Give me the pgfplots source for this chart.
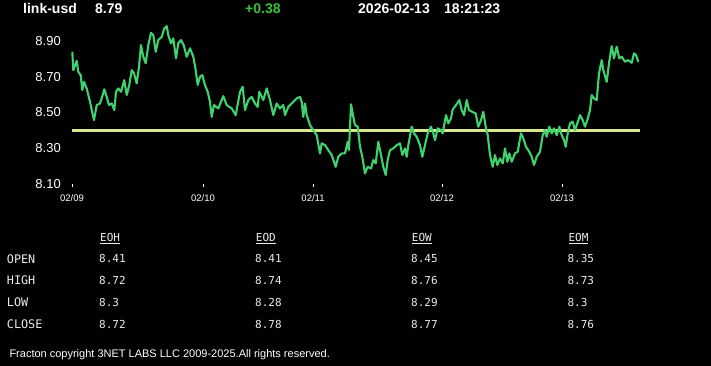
\documentclass[border=0pt]{standalone}
\usepackage{pgfplots}
\pgfplotsset{compat=1.18}
\usepackage{fontspec}
\setmainfont{Liberation Sans}
\newfontfamily\monofont{DejaVu Sans Mono}
\definecolor{linegreen}{RGB}{64,210,110}
\definecolor{refyellow}{RGB}{215,232,140}
\definecolor{chggreen}{RGB}{60,195,60}
\definecolor{txtgray}{RGB}{235,235,235}
\begin{document}
\begin{tikzpicture}[x=1pt,y=1pt]
\fill[black] (0,0) rectangle (711,366);
\begin{axis}[
  at={(72pt,182pt)}, anchor=south west,
  scale only axis, width=568pt, height=161.1pt,
  xmin=72, xmax=640, ymin=8.1, ymax=9.0,
  axis lines*=left, axis line style={draw=none},
  clip=false,
  tick align=outside, major tick length=3pt,
  xtick={72,203,313,442,562},
  xticklabels={02/09,02/10,02/11,02/12,02/13},
  xtick style={white, line width=0.8pt},
  ytick={8.1,8.3,8.5,8.7,8.9},
  yticklabels={8.10,8.30,8.50,8.70,8.90},
  ytick style={draw=none},
  yticklabel style={text=white, font=\fontsize{13}{13}\selectfont, inner sep=0pt, xshift=-8pt},
  xticklabel style={text=white, font=\fontsize{9.5}{9.5}\selectfont, yshift=-4pt},
]
\addplot[refyellow, line width=2.6pt] coordinates {(72,8.40) (640,8.40)};
\addplot[linegreen, line width=2.1pt, line join=round] coordinates {
(72.3,8.839) (73.3,8.736) (76.7,8.788) (78.3,8.727) (80.7,8.708) (82.3,8.625) (84,8.671) (86.7,8.634)
(90,8.559) (94,8.457) (96.7,8.541) (100,8.550) (101.7,8.578) (104.3,8.629) (106.7,8.587) (109,8.541)
(111.7,8.550) (114.3,8.513) (116,8.615) (118.3,8.634) (121,8.615) (124.3,8.680) (126.7,8.597) (129.3,8.653)
(131.7,8.736) (134,8.718) (136.7,8.662) (139,8.755) (141,8.876) (143.3,8.811) (145.7,8.774) (148.3,8.876)
(151,8.945) (153.3,8.932) (155.7,8.839) (158.3,8.904) (161.7,8.922) (164.3,8.969) (166.7,8.982) (168.3,8.932)
(171,8.886) (173.3,8.913) (176,8.802) (178.3,8.886) (181,8.904) (183.7,8.876) (186.7,8.811) (190,8.858)
(193.3,8.811) (195.7,8.736) (197.7,8.653) (200,8.699) (202.3,8.708) (205,8.653) (207.7,8.615) (210,8.559)
(211.7,8.475) (214,8.541) (218.3,8.522) (223.3,8.591) (226.7,8.541) (231.7,8.522) (235.7,8.485) (240,8.615)
(242.7,8.643) (245,8.513) (248.3,8.569) (251.7,8.587) (255,8.550) (257.7,8.531) (259.3,8.615) (263.3,8.569)
(266.7,8.634) (270,8.569) (273.3,8.485) (276.7,8.550) (280,8.522) (283.3,8.541) (285,8.485) (288.3,8.531)
(293.3,8.559) (296.7,8.578) (300,8.587) (301.7,8.559) (303.3,8.475) (305,8.550) (306.7,8.485) (310,8.429)
(313.3,8.401) (316.7,8.373) (320,8.271) (321.7,8.327) (325,8.317) (328.3,8.289) (331.7,8.262) (335.7,8.196)
(338.3,8.252) (341.7,8.271) (345,8.271) (347.7,8.336) (349,8.290) (351,8.546) (353.3,8.475) (355,8.429)
(357.7,8.420) (360,8.308) (362.3,8.252) (365,8.159) (367.7,8.196) (371,8.187) (373.3,8.234) (375.7,8.215)
(378.3,8.336) (381,8.262) (383.3,8.196) (385.7,8.150) (387.7,8.234) (390,8.289) (393.3,8.299) (396.7,8.317)
(400,8.327) (402.3,8.262) (405,8.299) (406.7,8.252) (408.3,8.317) (411.7,8.420) (414,8.383) (416.7,8.364)
(420,8.317) (422.3,8.252) (425,8.317) (427.7,8.383) (431,8.420) (433.3,8.383) (435,8.345) (437.7,8.411)
(441,8.401) (442.7,8.383) (446,8.485) (448.3,8.439) (451,8.467) (452.7,8.517) (456,8.541) (459.3,8.569)
(461.7,8.513) (464,8.485) (466.7,8.569) (469,8.513) (472.3,8.503) (475.7,8.494) (478.3,8.420) (481,8.457)
(483.3,8.503) (485.7,8.420) (487.7,8.373) (490,8.262) (492.7,8.196) (495,8.262) (497.3,8.206) (500,8.243)
(502.7,8.215) (505,8.299) (507.3,8.224) (509.3,8.271) (511.7,8.224) (515,8.271) (517.7,8.280) (521,8.383)
(523.3,8.355) (526,8.308) (529.3,8.280) (531.7,8.252) (534,8.206) (536.7,8.252) (540,8.280) (542.7,8.373)
(545,8.401) (546.7,8.364) (549.3,8.420) (551.7,8.383) (554,8.411) (556.7,8.373) (559.3,8.420) (561.7,8.373)
(564,8.345) (565.7,8.308) (567.7,8.383) (570,8.439) (572.7,8.448) (575,8.401) (577.3,8.439) (580,8.485)
(582.7,8.457) (585,8.420) (587.3,8.457) (590,8.513) (591.7,8.597) (594,8.578) (596.7,8.569) (599,8.718)
(601.7,8.792) (603.3,8.736) (606.7,8.671) (609,8.774) (611.7,8.870) (614,8.802) (616.7,8.867) (619.3,8.802)
(621.7,8.811) (625,8.783) (628.3,8.792) (631.7,8.777) (634,8.830) (636,8.820) (638.3,8.783)
};
\end{axis}
% header
\begin{scope}[every node/.style={inner sep=0pt, anchor=west, font=\fontsize{14}{14}\selectfont\bfseries}]
\node[text=white] at (23,357) {link-usd};
\node[text=white] at (95,357) {8.79};
\node[text=chggreen] at (245,357) {+0.38};
\node[text=white] at (358,357) {2026-02-13};
\node[text=white] at (444,357) {18:21:23};
\end{scope}
% table
\begin{scope}[every node/.style={inner sep=0pt, anchor=west, text=txtgray, font=\monofont\fontsize{11}{11}\selectfont}]
\node at (100,127.7) {\underline{EOH}};
\node at (255.7,127.7) {\underline{EOD}};
\node at (411.7,127.7) {\underline{EOW}};
\node at (568.3,127.7) {\underline{EOM}};
\node[font=\monofont\fontsize{11.8}{11.8}\selectfont] at (6.7,106.7) {OPEN};
\node[font=\monofont\fontsize{11.8}{11.8}\selectfont] at (6.7,86) {HIGH};
\node[font=\monofont\fontsize{11.8}{11.8}\selectfont] at (6.7,63.3) {LOW};
\node[font=\monofont\fontsize{11.8}{11.8}\selectfont] at (6.7,41.7) {CLOSE};
\node at (99,108) {8.41};  \node at (255,108) {8.41};  \node at (411,108) {8.45};  \node at (567.3,108) {8.35};
\node at (99,86)  {8.72};  \node at (255,86)  {8.74};  \node at (411,86)  {8.76};  \node at (567.3,86)  {8.73};
\node at (99,63.7) {8.3};  \node at (255,63.7) {8.28}; \node at (411,63.7) {8.29}; \node at (567.3,63.7) {8.3};
\node at (99,42)  {8.72};  \node at (255,42)  {8.78};  \node at (411,42)  {8.77};  \node at (567.3,42)  {8.76};
\end{scope}
\node[inner sep=0pt, anchor=west, text=white, font=\fontsize{11}{11}\selectfont] at (9.3,11.7) {Fracton copyright 3NET LABS LLC 2009-2025.All rights reserved.};
\pgfresetboundingbox
\useasboundingbox (0,0) rectangle (711,366);
\end{tikzpicture}
\end{document}
